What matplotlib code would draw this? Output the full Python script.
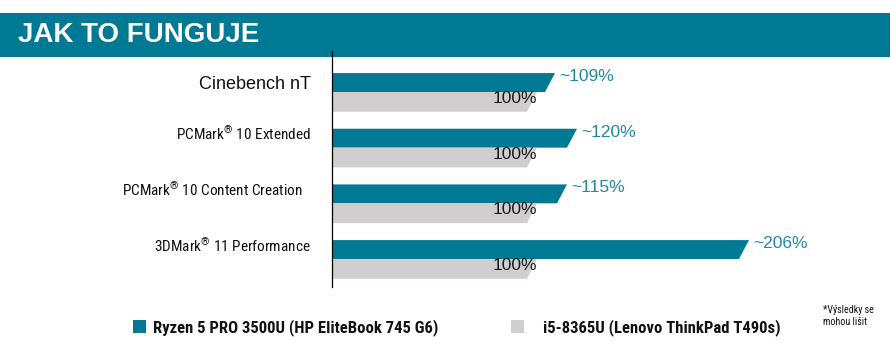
import matplotlib
matplotlib.use("Agg")
import matplotlib.pyplot as plt
from matplotlib.patches import Rectangle
import matplotlib.transforms as mtransforms

# data
categories = ["Cinebench nT", "PCMark$^{®}$ 10 Extended", "PCMark$^{®}$ 10 Content Creation   ",
              "3DMark$^{®}$ 11 Performance"]
ryzen_values = [109, 120, 115, 206]
intel_values = [100, 100, 100, 100]
series_names = ["Ryzen 5 PRO 3500U (HP EliteBook 745 G6)", "i5-8365U (Lenovo ThinkPad T490s)"]

TEAL = "#007a94"
TEAL_TEXT = "#2089a0"
GRAY = "#d0cecf"
NARROW = "Roboto Condensed"
REGULAR = "Liberation Sans"

plt.rcParams["mathtext.fontset"] = "custom"
plt.rcParams["mathtext.rm"] = NARROW
plt.rcParams["mathtext.it"] = NARROW
plt.rcParams["mathtext.bf"] = NARROW + ":bold"

W, H = 890, 357
fig = plt.figure(figsize=(W / 100, H / 100), dpi=100)

# header band
fig.patches.append(Rectangle((0, 1 - 57 / H), 1, 44 / H, transform=fig.transFigure,
                             facecolor=TEAL, edgecolor="none", zorder=-1))
fig.text(18 / W, 1 - 35 / H, "JAK TO FUNGUJE", color="white", fontsize=20,
         fontweight="bold", family=REGULAR, va="center", ha="left")

ax = fig.add_axes([332 / W, 1 - 287 / H, 558 / W, 236 / H])
ax.patch.set_visible(False)
for s in ["top", "right", "bottom"]:
    ax.spines[s].set_visible(False)
ax.spines["left"].set_linewidth(0.9)
ax.set_xticks([])
ax.set_yticks([])
ax.set_xlim(0, 279)
ax.set_ylim(3.503, -0.7365)

bh_top = 0.34
bh_bot = 0.355
slant = 5.0


def slanted_bar(y_top, y_bot, value, color):
    xs = [0, value + slant / 2, value - slant / 2, 0]
    ys = [y_top, y_top, y_bot, y_bot]
    ax.fill(xs, ys, color=color, linewidth=0)


trans = mtransforms.blended_transform_factory(ax.transAxes, ax.transData)
for i, (name, rv, iv) in enumerate(zip(categories, ryzen_values, intel_values)):
    slanted_bar(i - bh_top, i, rv, TEAL)
    slanted_bar(i, i + bh_bot, iv, GRAY)
    ax.text(rv + slant / 2 + 2, i - bh_top + 0.06, "~%d%%" % rv, color=TEAL_TEXT,
            fontsize=12.5, family=REGULAR, ha="left", va="center")
    ax.text(iv + slant / 2, i + bh_bot / 2 - 0.06, "%d%%" % iv, color="#1a1a1a",
            fontsize=12.5, family=REGULAR, ha="right", va="center")
    if i == 0:
        ax.text(-21 / 558, i - bh_top / 2 + 0.03, name, transform=trans, fontsize=13,
                family=REGULAR, ha="right", va="center", color="#111111")
    else:
        ax.text(-21 / 558, i - bh_top / 2 - 0.07, name, transform=trans, fontsize=11,
                family=NARROW, ha="right", va="center", color="#111111")

# legend
for (x0, col, tx), name in zip([(133, TEAL, 153), (511, GRAY, 543)], series_names):
    fig.patches.append(Rectangle((x0 / W, 1 - 333 / H), 13 / W, 13 / H, transform=fig.transFigure,
                                 facecolor=col, edgecolor="none"))
    fig.text(tx / W, 1 - 328 / H, name, fontsize=12.0, fontweight="bold", family=NARROW,
             va="center", ha="left", color="#111111")

fig.text(823 / W, 1 - 316 / H, "*Výsledky se\nmohou lišit", fontsize=7.2, family=NARROW,
         va="center", ha="left", color="#111111", linespacing=1.3)

fig.savefig("out.png", dpi=100)
